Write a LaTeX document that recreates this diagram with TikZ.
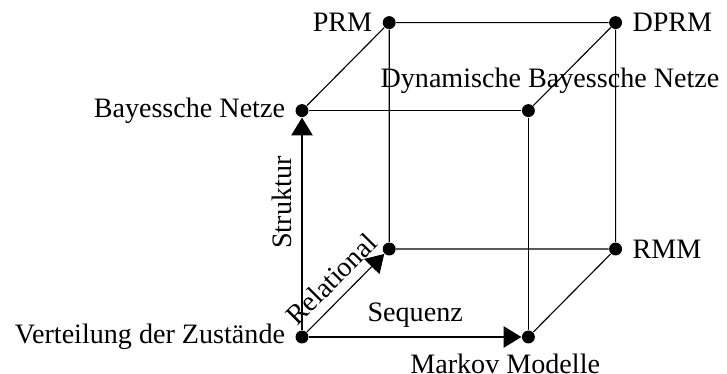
\documentclass[tikz,border=0pt]{standalone}
\usepackage{fontspec}
\setmainfont{Liberation Serif}
\usetikzlibrary{arrows.meta,positioning}

\begin{document}
\begin{tikzpicture}[on grid,node distance=2.83cm,>={Triangle[length=6.3pt,width=7.6pt]},dot/.style={circle,fill,inner sep=0pt,minimum size=4.6pt},]
    \useasboundingbox (-3.775,-0.4625) rectangle (5.3125,4.2125);
    \node [dot, label=left:Verteilung der Zustände] (vz) at (0,0) {};
    \node [dot, right=of vz, label={[xshift=-0.29cm]below:Markov Modelle}] (mm) {};
    \node [dot, above=of vz, label=left:Bayessche Netze] (bn) {};
    \node [dot, above=of mm, label={[xshift=0.27cm]above:Dynamische Bayessche Netze}] (dbn) {};
    \node [dot, above right=1.1cm and 1.09cm of vz] (rel) {};
    \node [dot, right=of rel, label=right:RMM] (rmm) {};
    \node [dot, above=of rel, label=left:PRM] (prm) {};
    \node [dot, above=of rmm, label=right:DPRM] (dprm) {};
    \path[->] (vz) edge node [above] {Sequenz} (mm);
    \path[->] (vz) edge node [above, sloped, pos=0.6] {Struktur} (bn);
    \path[->] (vz) edge node [above, sloped] {Relational} (rel);
    \draw (bn) -- (dbn) -- (mm);
    \draw (bn) -- (prm) -- (dprm) -- (rmm) -- (rel) -- (prm);
    \draw (dbn) -- (dprm);
    \draw (mm) -- (rmm);
\end{tikzpicture}
\end{document}
